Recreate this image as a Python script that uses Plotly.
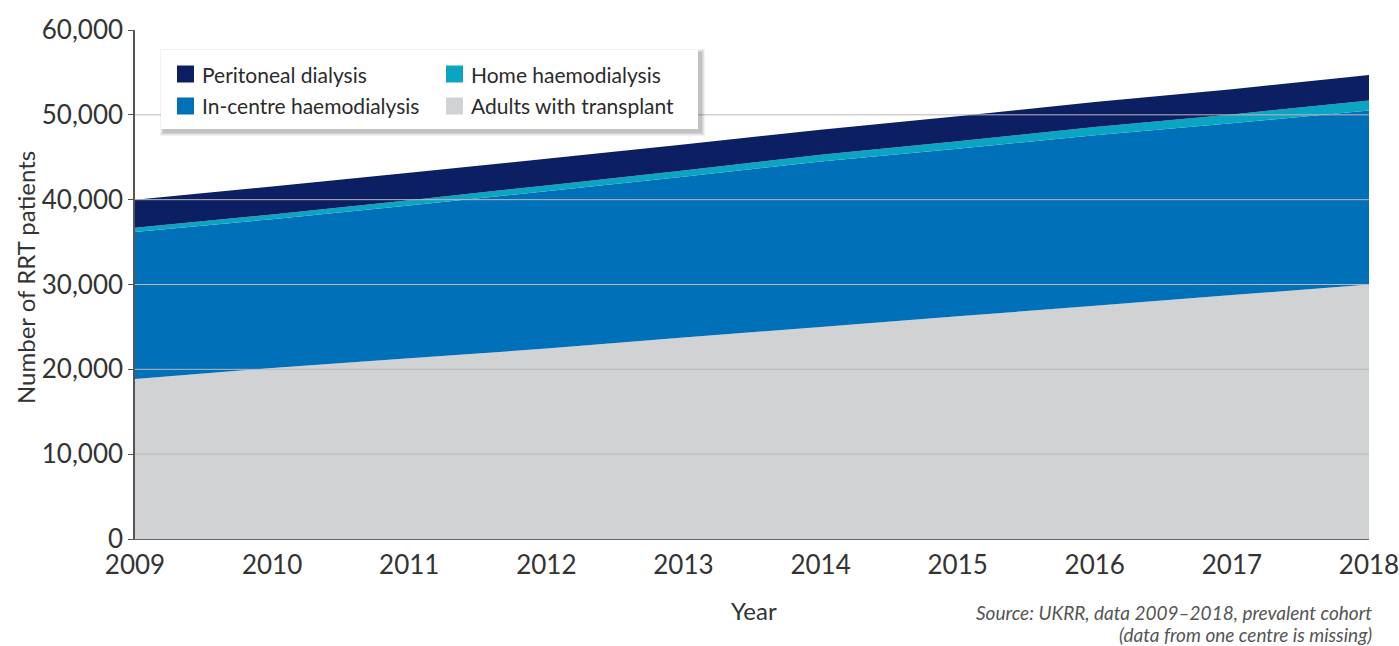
import plotly.graph_objects as go

years = [2009, 2010, 2011, 2012, 2013, 2014, 2015, 2016, 2017, 2018]
transplant = [18870, 20150, 21300, 22450, 23750, 25000, 26250, 27500, 28750, 30000]
in_centre_hd = [17330, 17550, 18000, 18550, 18950, 19500, 19750, 20100, 20250, 20500]
home_hd = [500, 560, 620, 680, 740, 800, 880, 960, 1050, 1180]
peritoneal = [3300, 3300, 3250, 3150, 3050, 2950, 2950, 2950, 2980, 3020]

series_names = ["Adults with transplant", "In-centre haemodialysis", "Home haemodialysis", "Peritoneal dialysis"]
series_vals = [transplant, in_centre_hd, home_hd, peritoneal]
colors = ["#d1d2d4", "#0070b8", "#0ba5c4", "#0d1f63"]

y_ticks = [0, 10000, 20000, 30000, 40000, 50000, 60000]
grid_vals = [10000, 20000, 30000, 40000, 50000]

FONT = "Lato, 'Open Sans', sans-serif"

fig = go.Figure()
for name, vals, col in zip(series_names, series_vals, colors):
    fig.add_trace(go.Scatter(
        x=years, y=vals, name=name, stackgroup="one", mode="none",
        fillcolor=col, line=dict(width=0), showlegend=False, hoverinfo="x+y+name"))

W, H = 1399, 646
PL, PR, PT, PB = 135, 1369, 30, 539  # plot area in page pixels
L, T = PL, PT
R = W - PR
B = H - PB
pw, ph = PR - PL, PB - PT

def px(x):
    return (x - PL) / pw

def py(y):
    return (PB - y) / ph

shapes = []
for g in grid_vals:
    shapes.append(dict(type="line", xref="paper", yref="y", x0=0, x1=1, y0=g, y1=g,
                       line=dict(color="#b9b9b9", width=1), layer="above"))

# legend box with shadow
for i, op in enumerate([0.05, 0.06, 0.07, 0.08]):
    d = 4 - i
    shapes.append(dict(type="rect", xref="paper", yref="paper",
                       x0=px(161 - d + 3), x1=px(698 + d + 3), y0=py(129 + d + 3), y1=py(50 - d + 3),
                       fillcolor=f"rgba(0,0,0,{op})", line=dict(width=0), layer="above"))
shapes.append(dict(type="rect", xref="paper", yref="paper",
                   x0=px(161), x1=px(698), y0=py(129), y1=py(50),
                   fillcolor="white", line=dict(width=0), layer="above"))

legend_items = [
    ("Peritoneal dialysis", "#0d1f63", 177, 74),
    ("Home haemodialysis", "#0ba5c4", 446, 74),
    ("In-centre haemodialysis", "#0070b8", 177, 106),
    ("Adults with transplant", "#d1d2d4", 446, 106),
]
annotations = []
for text, col, x0, yc in legend_items:
    shapes.append(dict(type="rect", xref="paper", yref="paper",
                       x0=px(x0), x1=px(x0 + 17), y0=py(yc + 8.5), y1=py(yc - 8.5),
                       fillcolor=col, line=dict(width=0), layer="above"))
    annotations.append(dict(xref="paper", yref="paper", x=px(x0 + 23), y=py(yc),
                            text=text, showarrow=False, xanchor="left", yanchor="middle",
                            font=dict(family=FONT, size=21, color="#2b2b2b")))

for txt, yc in [("<i>Source: UKRR, data 2009–2018, prevalent cohort</i>", 612),
                ("<i>(data from one centre is missing)</i>", 634)]:
    annotations.append(dict(xref="paper", yref="paper", x=px(1374), y=py(yc),
                            text=txt, showarrow=False, xanchor="right", yanchor="middle",
                            font=dict(family=FONT, size=19, color="#555555")))

annotations.append(dict(xref="paper", yref="paper", x=px(754), y=py(610),
                        text="Year", showarrow=False, xanchor="center", yanchor="middle",
                        font=dict(family=FONT, size=24, color="#333333")))
annotations.append(dict(xref="paper", yref="paper", x=px(25), y=py(278),
                        text="Number of RRT patients", showarrow=False, textangle=-90,
                        xanchor="center", yanchor="middle",
                        font=dict(family=FONT, size=24, color="#333333")))

fig.update_layout(
    width=W, height=H,
    margin=dict(l=L, r=R, t=T, b=B, autoexpand=False),
    paper_bgcolor="white", plot_bgcolor="white",
    font=dict(family=FONT, color="#333333"),
    shapes=shapes, annotations=annotations,
    showlegend=False,
)
fig.update_xaxes(
    range=[2009, 2018], tickvals=years, ticktext=[str(y) for y in years],
    automargin=False,
    showgrid=False, zeroline=False, showline=True, linecolor="#666666", linewidth=1,
    ticks="", ticklabeloverflow="allow", ticklabelstandoff=3,
    tickfont=dict(family=FONT, size=26, color="#333333"),
)
fig.update_yaxes(
    range=[0, 60000], tickvals=y_ticks, tickformat=",",
    automargin=False,
    showgrid=False, zeroline=False, showline=True, linecolor="#555555", linewidth=1.5,
    ticks="outside", ticklen=5, tickcolor="#555555",
    tickfont=dict(family=FONT, size=26, color="#333333"),
)

fig.write_html("out.html", config={"displayModeBar": False},
               post_script="document.body.style.margin='0';")
